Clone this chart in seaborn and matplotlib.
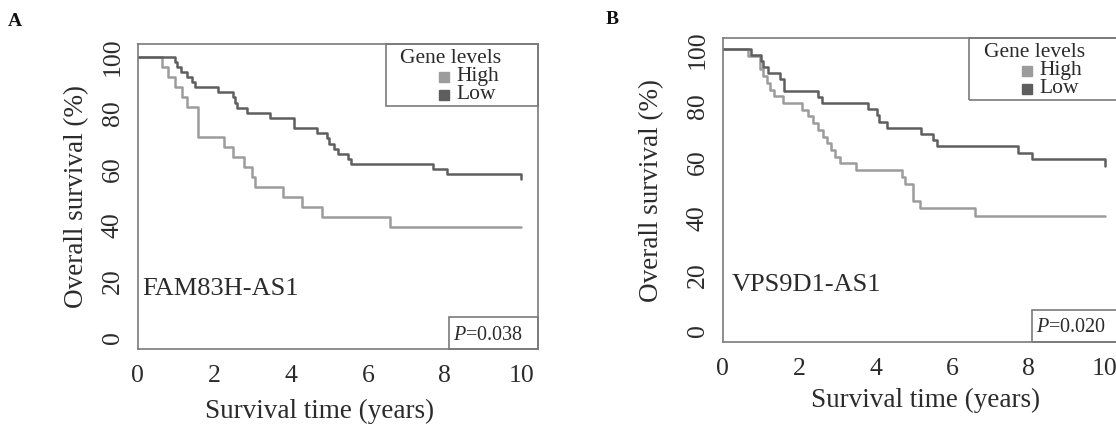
import matplotlib
matplotlib.use("Agg")
import matplotlib.pyplot as plt
import seaborn as sns
import pandas as pd
from matplotlib.patches import Rectangle

# Kaplan-Meier steps (time in years, survival in %)
a_high_time = [0, 0.65, 0.79, 0.98, 1.16, 1.28, 1.57, 2.26, 2.50, 2.78, 2.97, 3.06,
               3.78, 4.29, 4.81, 6.59, 10.0]
a_high_surv = [100, 96.4, 92.9, 89.3, 85.7, 82.1, 71.4, 67.9, 64.3, 60.7, 57.1, 53.6,
               50.0, 46.4, 42.9, 39.3, 39.3]
a_low_time = [0, 0.97, 1.04, 1.13, 1.30, 1.41, 1.50, 2.09, 2.48, 2.53, 2.60, 2.85,
              3.45, 4.07, 4.68, 4.94, 5.00, 5.13, 5.22, 5.48, 5.57, 7.70, 8.07, 10.0]
a_low_surv = [100, 98.2, 96.4, 94.5, 92.7, 90.9, 89.1, 87.3, 85.5, 83.6, 81.8, 80.0,
              78.2, 74.5, 72.7, 70.9, 69.1, 67.3, 65.5, 63.6, 61.8, 60.0, 58.2, 56.4]

b_high_time = [0, 0.66, 0.98, 1.06, 1.15, 1.24, 1.34, 1.57, 2.08, 2.22, 2.35, 2.50,
               2.62, 2.72, 2.83, 2.93, 3.07, 3.49, 4.68, 4.77, 4.97, 4.99, 5.17, 6.61, 10.0]
b_high_surv = [100, 97.6, 92.9, 90.5, 88.1, 85.7, 83.3, 81.0, 78.6, 76.2, 73.8, 71.4,
               69.0, 66.7, 64.3, 61.9, 59.5, 57.1, 54.6, 52.2, 49.3, 46.3, 43.8, 40.8, 40.8]
b_low_time = [0, 0.74, 0.99, 1.06, 1.18, 1.50, 1.59, 2.50, 2.59, 3.81, 4.03, 4.10,
              4.29, 5.19, 5.51, 5.60, 7.72, 8.10, 10.0]
b_low_surv = [100, 97.9, 95.8, 93.7, 91.5, 89.4, 85.1, 83.0, 80.9, 78.7, 76.5, 74.3,
              72.2, 70.0, 67.8, 65.5, 63.3, 61.0, 58.7]

groups = ["High", "Low"]
x_ticks = [0, 2, 4, 6, 8, 10]
y_ticks = [0, 20, 40, 60, 80, 100]

HIGH_COL = "#9c9c9c"
LOW_COL = "#5e5e5e"
FRAME_COL = "#7a7a7a"
TEXT_COL = "#2b2b2b"

sns.set_theme(style="white")
plt.rcParams["font.family"] = ["Liberation Serif", "DejaVu Serif"]
plt.rcParams["mathtext.fontset"] = "custom"
plt.rcParams["mathtext.rm"] = "Liberation Serif"
plt.rcParams["mathtext.it"] = "Liberation Serif:italic"

W, H = 1116, 426
fig = plt.figure(figsize=(W / 100, H / 100), dpi=100)


def make_frame(high_t, high_s, low_t, low_s):
    df_high = pd.DataFrame({"time": high_t, "surv": high_s, "group": "High"})
    df_low = pd.DataFrame({"time": low_t, "surv": low_s, "group": "Low"})
    return pd.concat([df_high, df_low], ignore_index=True)


def draw_panel(box, ylim, df, gene, gene_xy, pval, xlab_x, xlab_dy, ylab_dx, letter, letter_xy):
    left, top, right, bottom = box
    ax = fig.add_axes([left / W, (H - bottom) / H, (right - left) / W, (bottom - top) / H])
    w_px, h_px = right - left, bottom - top

    sns.lineplot(data=df, x="time", y="surv", hue="group", hue_order=groups,
                 palette=[HIGH_COL, LOW_COL], estimator=None, sort=False,
                 drawstyle="steps-post", linewidth=1.8, legend=False, ax=ax)

    ax.set_xlim(0, 10.42)
    ax.set_ylim(*ylim)
    ax.set_xticks(x_ticks)
    ax.set_yticks(y_ticks)
    for s in ax.spines.values():
        s.set_color(FRAME_COL)
        s.set_linewidth(1.2)
    ax.tick_params(axis="both", colors=FRAME_COL, labelcolor=TEXT_COL, width=1.1,
                   labelsize=18.5, direction="out")
    ax.tick_params(axis="x", length=3.5, pad=8)
    ax.tick_params(axis="y", length=4, pad=14, labelrotation=90)
    for lab in ax.get_yticklabels():
        lab.set_ha("center")
        lab.set_va("center")

    ax.set_xlabel("Survival time (years)", fontsize=19.5, color=TEXT_COL, va="center")
    ax.xaxis.set_label_coords(xlab_x, -xlab_dy / h_px)
    ax.set_ylabel("Overall survival (%)", fontsize=19.5, color=TEXT_COL, va="center")
    ax.yaxis.set_label_coords(-ylab_dx / w_px, 0.5)

    # gene name
    ax.text(gene_xy[0], gene_xy[1], gene, fontsize=19, color=TEXT_COL,
            ha="left", va="center")

    # legend box, R style
    tr = ax.transAxes
    ax.add_patch(Rectangle((1 - 152 / w_px, 1 - 61.5 / h_px), 152 / w_px, 61.5 / h_px,
                           transform=tr, fill=False, edgecolor=FRAME_COL, lw=1.2,
                           clip_on=False))
    ax.text(1 - 137 / w_px, 1 - 14 / h_px, "Gene levels", transform=tr, fontsize=15.5,
            color=TEXT_COL, ha="left", va="center")
    for name, col, dy in [("High", HIGH_COL, 32.5), ("Low", LOW_COL, 50.5)]:
        ax.plot([1 - 93.5 / w_px], [1 - dy / h_px], marker="s", ms=6.5, color=col,
                transform=tr, clip_on=False, lw=0)
        ax.text(1 - 81 / w_px, 1 - dy / h_px, name, transform=tr, fontsize=15.5,
                color=TEXT_COL, ha="left", va="center")

    # p value box
    ax.add_patch(Rectangle((1 - 89 / w_px, 0), 89 / w_px, 32 / h_px, transform=tr,
                           fill=False, edgecolor=FRAME_COL, lw=1.2, clip_on=False))
    ax.text(1 - 84.5 / w_px, 14 / h_px, r"$P$=" + pval, transform=tr, fontsize=14.5,
            color=TEXT_COL, ha="left", va="center")

    fig.text(letter_xy[0] / W, 1 - letter_xy[1] / H, letter, fontsize=14,
             fontweight="bold", color="#111111", ha="left", va="center")
    return ax


df_a = make_frame(a_high_time, a_high_surv, a_low_time, a_low_surv)
df_b = make_frame(b_high_time, b_high_surv, b_low_time, b_low_surv)

draw_panel((137.5, 44.3, 537.5, 349), (-4.0, 104.4), df_a, "FAM83H-AS1", (0.13, 17.3),
           "0.038", 0.454, 62, 61, "A", (8, 21))
draw_panel((722.8, 38.3, 1120.8, 341.7), (-3.8, 103.9), df_b, "VPS9D1-AS1", (0.24, 16.3),
           "0.020", 0.51, 59, 71, "B", (606, 19))

fig.savefig("out.png", dpi=100)
